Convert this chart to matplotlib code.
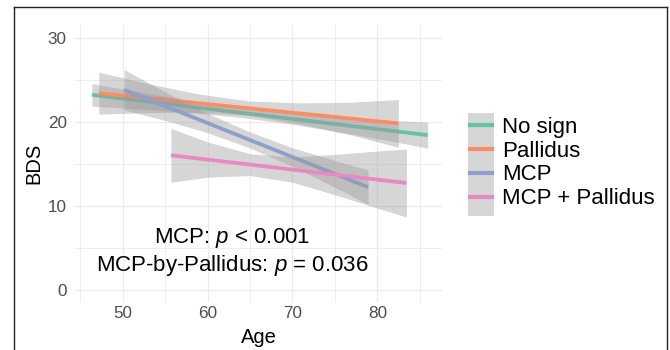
import matplotlib.pyplot as plt
from matplotlib.lines import Line2D
from matplotlib.patches import Rectangle

plt.rcParams['font.family'] = ['Liberation Sans', 'DejaVu Sans']
plt.rcParams['mathtext.fontset'] = 'custom'
plt.rcParams['mathtext.rm'] = 'Liberation Sans'
plt.rcParams['mathtext.it'] = 'Liberation Sans:italic'

groups = ['No sign', 'Pallidus', 'MCP', 'MCP + Pallidus']
colors = ['#66C2A5', '#FC8D62', '#8DA0CB', '#E78AC3']

# fitted lines: start / end (age, BDS)
fit_age = [[46.4, 85.9], [47.2, 82.45], [50.2, 78.9], [55.7, 83.4]]
fit_bds = [[23.2, 18.4], [23.4, 19.8], [23.8, 12.2], [16.0, 12.7]]

band_age = [
    [46.4, 52, 58, 64, 70, 76, 82, 85.9],
    [47.2, 53, 59, 65, 71, 77, 82.45],
    [50.2, 55, 60, 65, 70, 75, 78.9],
    [55.7, 60, 65, 70, 75, 80, 83.4],
]
band_lo = [
    [21.85, 21.5, 21.07, 20.51, 19.69, 18.69, 17.61, 16.85],
    [20.9, 21.09, 21.11, 20.73, 19.70, 18.40, 16.95],
    [21.4, 20.16, 18.69, 16.87, 14.7, 12.18, 10.15],
    [12.8, 13.39, 13.59, 12.8, 11.3, 9.71, 8.65],
]
band_hi = [
    [24.55, 23.54, 22.51, 21.61, 20.97, 20.51, 20.11, 19.95],
    [25.9, 24.53, 23.29, 22.45, 22.24, 22.32, 22.65],
    [26.2, 23.56, 20.99, 18.77, 16.9, 15.38, 14.25],
    [19.2, 17.59, 16.19, 15.8, 16.1, 16.51, 16.75],
]

fig = plt.figure(figsize=(6.7, 3.5), dpi=100)
ax = fig.add_axes([75/670, 1-302.3/350, (442-75)/670, (302.3-25.1)/350])

z = 2
for i, g in enumerate(groups):
    ax.fill_between(band_age[i], band_lo[i], band_hi[i], color='#999999', alpha=0.4, lw=0, zorder=z)
    ax.plot(fit_age[i], fit_bds[i], color=colors[i], lw=2.7, solid_capstyle='butt', zorder=z+1)
    z += 2

ax.set_xlim(44.41, 87.59)
ax.set_ylim(-1.5, 31.5)
ax.set_xticks([50, 60, 70, 80])
ax.set_yticks([0, 10, 20, 30])
ax.set_xticks([45, 55, 65, 75, 85], minor=True)
ax.set_yticks([5, 15, 25], minor=True)
ax.grid(True, which='major', color='#EBEBEB', lw=0.9)
ax.grid(True, which='minor', color='#EBEBEB', lw=0.6)
ax.set_axisbelow(True)
for s in ax.spines.values():
    s.set_visible(False)
ax.tick_params(which='both', length=0, labelsize=12.3, labelcolor='#4D4D4D')
ax.tick_params(axis='x', pad=3)
ax.tick_params(axis='y', pad=6)
ax.set_xlabel('Age', fontsize=14.5, labelpad=5)
ax.set_ylabel('BDS', fontsize=14.5, labelpad=3)

ax.text(62.9, 6.15, 'MCP: $p$ < 0.001', ha='center', va='center', fontsize=16)
ax.text(62.9, 2.9, 'MCP-by-Pallidus: $p$ = 0.036', ha='center', va='center', fontsize=16)

# legend: grey key background as one block, like ggplot's se keys
fig.add_artist(Rectangle((468/670, 1-216/350), 26/670, 103/350,
                         transform=fig.transFigure, facecolor='#D6D6D6', edgecolor='none', zorder=1))
handles = [Line2D([], [], color=c, lw=3) for c in colors]
fig.legend(handles, groups, loc='center left', bbox_to_anchor=(470/670, 1-163/350),
           frameon=False, fontsize=16, handlelength=1.0, labelspacing=0.13,
           handletextpad=0.45, borderpad=0, borderaxespad=0, numpoints=1)

# outer frame (bottom edge is cut off in the original)
fig.add_artist(Line2D([14/670, 14/670], [0, 1-7/350], color='#222222', lw=1))
fig.add_artist(Line2D([14/670, 667/670], [1-7/350, 1-7/350], color='#222222', lw=1))
fig.add_artist(Line2D([667/670, 667/670], [0, 1-7/350], color='#222222', lw=1))

fig.savefig('out.png', dpi=100)
